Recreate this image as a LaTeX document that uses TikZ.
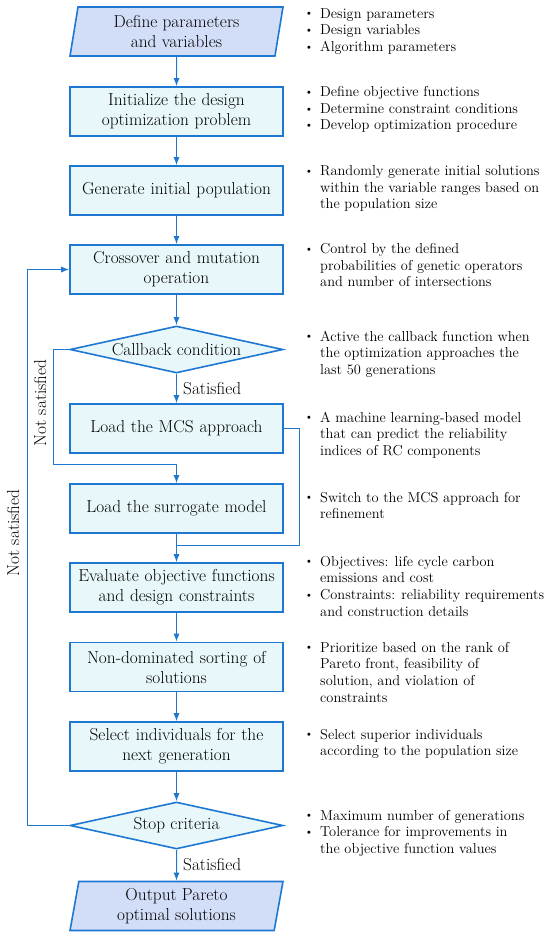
\documentclass[tikz,border=0pt]{standalone}
\usetikzlibrary{shapes.geometric,arrows.meta}
\definecolor{bline}{RGB}{30,120,210}
\definecolor{bfill}{RGB}{232,248,250}
\definecolor{pfill}{RGB}{210,222,248}
\newcommand\boxfont{\fontsize{17.3}{20}\selectfont}
\newcommand\notefont{\fontsize{14.4}{16.7}\selectfont}
\newcommand\bitem{\strut\hspace*{0.5pt}\makebox[15.5pt][l]{\raisebox{0.2ex}{\scalebox{0.8}{\textbullet}}}}
\newcommand\bcont{\hspace*{16pt}}
\begin{document}
\begin{tikzpicture}[x=1pt,y=-1pt,
  proc/.style={rectangle, draw=bline, line width=1.6pt, fill=bfill,
    minimum width=213pt, minimum height=49pt, text width=213pt,
    inner xsep=0pt, inner ysep=0pt, align=center, font=\boxfont},
  para/.style={trapezium, trapezium left angle=76, trapezium right angle=104,
    trapezium stretches body, draw=bline, line width=1.6pt, fill=pfill,
    minimum width=213pt, minimum height=49pt, inner sep=0pt,
    align=center, font=\boxfont},
  deci/.style={diamond, draw=bline, line width=1.6pt, fill=bfill, aspect=4.5,
    minimum width=213pt, minimum height=47pt, inner sep=0pt, font=\boxfont},
  note/.style={anchor=north west, inner sep=0pt, align=left, font=\notefont},
  conn/.style={draw=bline, line width=1pt},
  arr/.style={conn, -{Latex[length=8pt,width=6pt]}},
  lab/.style={font=\boxfont, inner sep=0pt}]
\useasboundingbox[fill=white] (0,0) rectangle (550,938);

% main flow
\node[para] (p1) at (176.5,31.5) {Define parameters\\and variables};
\node[proc] (b2) at (176.5,111.5) {Initialize the design\\optimization problem};
\node[proc] (b3) at (176.5,190.5) {Generate initial population};
\node[proc] (b4) at (176.5,269.5) {Crossover and mutation\\operation};
\node[deci] (d1) at (176.5,349.5) {Callback condition};
\node[proc] (b5) at (176.5,428.5) {Load the MCS approach};
\node[proc] (b6) at (176.5,508.5) {Load the surrogate model};
\node[proc] (b7) at (176.5,587.5) {Evaluate objective functions\\and design constraints};
\node[proc] (b8) at (176.5,667) {Non-dominated sorting of\\solutions};
\node[proc] (b9) at (176.5,746.5) {Select individuals for the\\next generation};
\node[deci] (d2) at (176.5,825.5) {Stop criteria};
\node[para] (p2) at (176.5,906) {Output Pareto\\optimal solutions};

% helper coordinates
\coordinate (c1) at (53,349.5);
\coordinate (c2) at (53,464);
\coordinate (c3) at (176.5,464);
\coordinate (m1) at (299,428.5);
\coordinate (m2) at (299,545);
\coordinate (m3) at (176.5,545);
\coordinate (o1) at (27,825.5);
\coordinate (o2) at (27,269.5);

% connectors
\draw[arr] (p1) -- (b2);
\draw[arr] (b2) -- (b3);
\draw[arr] (b3) -- (b4);
\draw[arr] (b4) -- (d1);
\draw[arr] (d1) -- (b5);
\draw[arr] (d1.west) -- (c1) -- (c2) -- (c3) -- (b6.north);
\draw[conn] (b5.east) -- (m1) -- (m2) -- (m3);
\draw[arr] (b6) -- (b7);
\draw[arr] (b7) -- (b8);
\draw[arr] (b8) -- (b9);
\draw[arr] (b9) -- (d2);
\draw[arr] (d2) -- (p2);
\draw[arr] (d2.west) -- (o1) -- (o2) -- (b4.west);

% connector labels
\node[lab, anchor=west] (s1) at (183,389) {Satisfied};
\node[lab, anchor=west] (s2) at (183,865) {Satisfied};
\node[lab, rotate=90] (n1) at (40,403) {Not satisfied};
\node[lab, rotate=90] (n2) at (13,533) {Not satisfied};

% notes
\node[note] (t1) at (304,6.2) {\bitem Design parameters\\\bitem Design variables\\\bitem Algorithm parameters};
\node[note] (t2) at (304,84.7) {\bitem Define objective functions\\\bitem Determine constraint conditions\\\bitem Develop optimization procedure};
\node[note] (t3) at (304,163.7) {\bitem Randomly generate initial solutions\\\bcont within the variable ranges based on\\\bcont the population size};
\node[note] (t4) at (304,241.7) {\bitem Control by the defined\\\bcont probabilities of genetic operators\\\bcont and number of intersections};
\node[note] (t5) at (304,329.2) {\bitem Active the callback function when\\\bcont the optimization approaches the\\\bcont last 50 generations};
\node[note] (t6) at (304,410.2) {\bitem A machine learning-based model\\\bcont that can predict the reliability\\\bcont indices of RC components};
\node[note] (t7) at (304,490.2) {\bitem Switch to the MCS approach for\\\bcont refinement};
\node[note] (t8) at (304,554.2) {\bitem Objectives: life cycle carbon\\\bcont emissions and cost\\\bitem Constraints: reliability requirements\\\bcont and construction details};
\node[note] (t9) at (304,640.2) {\bitem Prioritize based on the rank of\\\bcont Pareto front, feasibility of\\\bcont solution, and violation of\\\bcont constraints};
\node[note] (t10) at (304,727.2) {\bitem Select superior individuals\\\bcont according to the population size};
\node[note] (t11) at (304,808.2) {\bitem Maximum number of generations\\\bitem Tolerance for improvements in\\\bcont the objective function values};
\end{tikzpicture}
\end{document}
